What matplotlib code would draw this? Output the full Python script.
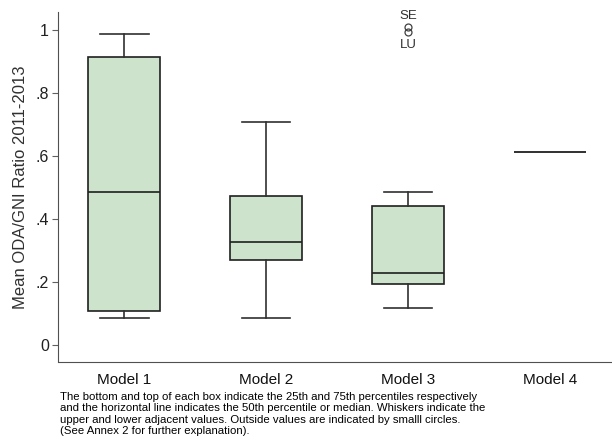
import matplotlib
matplotlib.use("Agg")
import matplotlib.pyplot as plt

plt.rcParams['font.family'] = ['Liberation Sans', 'DejaVu Sans']

# box statistics (ODA/GNI ratio)
models = ['Model 1', 'Model 2', 'Model 3', 'Model 4']
whisker_low = [0.086, 0.086, 0.117, 0.613]
q1 = [0.108, 0.270, 0.194, 0.613]
median = [0.486, 0.327, 0.229, 0.613]
q3 = [0.914, 0.473, 0.441, 0.613]
whisker_high = [0.987, 0.708, 0.486, 0.613]

# outside values for Model 3
outlier_values = [1.010, 0.992]
outlier_labels = ['SE', 'LU']

caption = ("The bottom and top of each box indicate the 25th and 75th percentiles respectively\n"
           "and the horizontal line indicates the 50th percentile or median. Whiskers indicate the\n"
           "upper and lower adjacent values. Outside values are indicated by smalll circles.\n"
           "(See Annex 2 for further explanation).")

stats = []
for i, m in enumerate(models):
    stats.append({
        'label': m,
        'whislo': whisker_low[i],
        'q1': q1[i],
        'med': median[i],
        'q3': q3[i],
        'whishi': whisker_high[i],
        'fliers': outlier_values if m == 'Model 3' else [],
    })

fig = plt.figure(figsize=(6.12, 4.41), dpi=100)
ax = fig.add_axes([58.5 / 612, 79 / 441, 1 - 58.5 / 612, (362 - 12) / 441])

line_col = '#303030'
positions = list(range(len(models)))
single = [i for i in positions if q1[i] == q3[i]]
multi = [i for i in positions if q1[i] != q3[i]]

ax.bxp([stats[i] for i in multi], positions=multi, widths=0.507,
       patch_artist=True, showcaps=True,
       boxprops=dict(facecolor='#cde3cb', edgecolor='#202020', linewidth=1.2),
       medianprops=dict(color='#202020', linewidth=1.2),
       whiskerprops=dict(color=line_col, linewidth=1.2),
       capprops=dict(color=line_col, linewidth=1.2),
       capwidths=0.34,
       flierprops=dict(marker='o', markersize=5, markerfacecolor='none',
                       markeredgecolor='#404040', markeredgewidth=0.9))

# a model with a single value collapses to its median line
for i in single:
    ax.hlines(median[i], i - 0.2535, i + 0.2535, color='#202020', linewidth=1.3)

ax.text(2, outlier_values[0] + 0.035, outlier_labels[0], ha='center', va='center',
        fontsize=9.5, color='#303030')
ax.text(2, outlier_values[1] - 0.04, outlier_labels[1], ha='center', va='center',
        fontsize=9.5, color='#303030')

ax.set_xlim(-0.465, 3.44)
ax.set_ylim(-0.054, 1.057)
ax.set_yticks([0, 0.2, 0.4, 0.6, 0.8, 1.0])
ax.set_yticklabels(['0', '.2', '.4', '.6', '.8', '1'], fontsize=11.5, color='#202020')
ax.set_xticks(positions)
ax.set_xticklabels(models, fontsize=11, color='#101010')
ax.tick_params(axis='x', length=0, pad=8)
ax.tick_params(axis='y', length=4, color='#606060', pad=3)
ax.set_ylabel('Mean ODA/GNI Ratio 2011-2013', fontsize=12, color='#303030', labelpad=5)

for s in ['top', 'right']:
    ax.spines[s].set_visible(False)
ax.spines['left'].set_color('#505050')
ax.spines['bottom'].set_color('#505050')

fig.text(60 / 612, 1 - 392 / 441, caption, ha='left', va='top', fontsize=8.2,
         linespacing=1.18, color='black')

fig.savefig('out.png', dpi=100)
